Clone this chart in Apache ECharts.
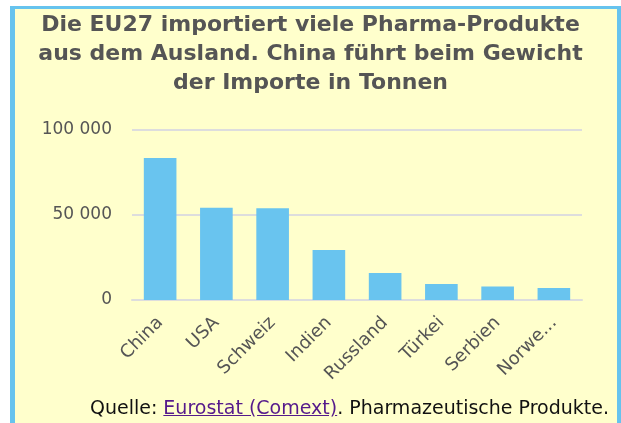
<!DOCTYPE html>
<html>
<head>
<meta charset="utf-8">
<script src="https://cdn.jsdelivr.net/npm/echarts@6/dist/echarts.min.js"></script>
<style>
html,body{margin:0;padding:0;background:#fff;width:621px;height:423px;overflow:hidden;}
.box{position:absolute;left:10px;top:6px;width:602px;height:430px;background:#FFFFCC;
  border-left:5px solid #66C3EE;border-top:3px solid #66C3EE;border-right:5px solid #66C3EE;}
#main{position:absolute;left:0;top:0;width:621px;height:423px;}
.src{position:absolute;right:12px;top:395px;font-family:"DejaVu Sans",sans-serif;font-size:19px;line-height:24px;color:#111;white-space:nowrap;}
.src a{color:#551A8B;text-decoration:underline;}
</style>
</head>
<body>
<div class="box"></div>
<div id="main"></div>
<div class="src">Quelle: <a href="#">Eurostat (Comext)</a>. Pharmazeutische Produkte.</div>
<script>
// Importe von Pharma-Produkten in die EU27, Tonnen
var titleText = 'Die EU27 importiert viele Pharma-Produkte\naus dem Ausland. China führt beim Gewicht\nder Importe in Tonnen';
var countries = ['China', 'USA', 'Schweiz', 'Indien', 'Russland', 'Türkei', 'Serbien', 'Norwegen'];
var tonnes = [83500, 54300, 53900, 29400, 15900, 9400, 8000, 7000];
var yTicks = [0, 50000, 100000];

var myChart = echarts.init(document.getElementById('main'));
myChart.setOption({
  animation: false,
  title: {
    text: titleText,
    left: 'center',
    top: 6,
    textStyle: {
      fontFamily: 'DejaVu Sans',
      fontSize: 22,
      fontWeight: 'bold',
      color: '#555',
      lineHeight: 29
    }
  },
  grid: {left: 132, right: 39, top: 130, bottom: 123},
  xAxis: {
    type: 'category',
    data: countries,
    axisLine: {lineStyle: {color: '#ddd', width: 2}},
    axisTick: {show: false},
    axisLabel: {
      rotate: 45,
      interval: 0,
      margin: 20,
      fontFamily: 'DejaVu Sans',
      fontSize: 18,
      color: '#555',
      width: 83,
      overflow: 'truncate',
      ellipsis: '...'
    }
  },
  yAxis: {
    type: 'value',
    min: yTicks[0],
    max: yTicks[2],
    interval: 50000,
    axisLine: {show: false},
    axisTick: {show: false},
    splitLine: {lineStyle: {color: '#ddd', width: 2}},
    axisLabel: {
      fontFamily: 'DejaVu Sans',
      fontSize: 17,
      color: '#555',
      margin: 20,
      formatter: function (v) {
        return String(v).replace(/\B(?=(\d{3})+(?!\d))/g, ' ');
      }
    }
  },
  series: [{
    type: 'bar',
    data: tonnes,
    barWidth: '58%',
    itemStyle: {color: '#69C4EF'}
  }]
});
</script>
</body>
</html>
